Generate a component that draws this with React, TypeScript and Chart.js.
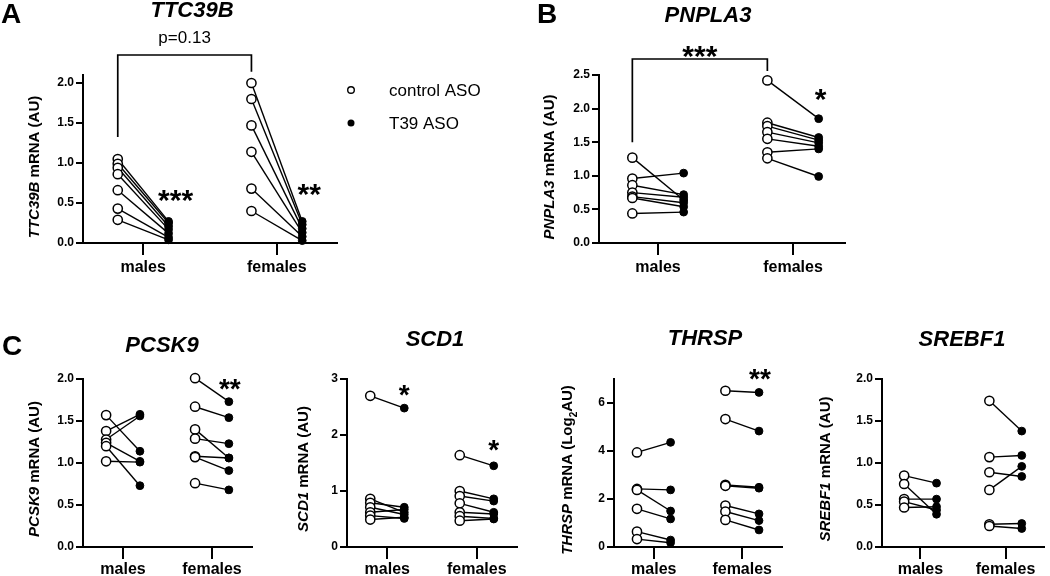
import React, { useEffect, useRef } from "react";
import { Chart, registerables } from "chart.js";

Chart.register(...registerables);

const FONT = "'Liberation Sans', Arial, Helvetica, sans-serif";

// ---------- labels ----------
const groupLabels = ["males", "females"];
const legendLabels = ["control ASO", "T39 ASO"];

// ---------- Panel A: TTC39B ----------
const ttc39bMaleControl = [1.05, 0.99, 0.94, 0.86, 0.66, 0.43, 0.29];
const ttc39bMaleASO = [0.27, 0.25, 0.21, 0.17, 0.12, 0.07, 0.04];
const ttc39bFemaleControl = [2.0, 1.8, 1.47, 1.14, 0.68, 0.4];
const ttc39bFemaleASO = [0.27, 0.23, 0.18, 0.13, 0.08, 0.03];
const ttc39bYTicks = [0, 0.5, 1.0, 1.5, 2.0];

// ---------- Panel B: PNPLA3 ----------
const pnpla3MaleControl = [1.27, 0.96, 0.86, 0.75, 0.69, 0.67, 0.44];
const pnpla3MaleASO = [0.64, 1.04, 0.72, 0.68, 0.6, 0.54, 0.46];
const pnpla3FemaleControl = [2.42, 1.79, 1.74, 1.65, 1.55, 1.35, 1.26];
const pnpla3FemaleASO = [1.85, 1.57, 1.53, 1.49, 1.44, 1.4, 0.99];
const pnpla3YTicks = [0, 0.5, 1.0, 1.5, 2.0, 2.5];

// ---------- Panel C: PCSK9 ----------
const pcsk9MaleControl = [1.57, 1.38, 1.28, 1.24, 1.2, 1.02];
const pcsk9MaleASO = [1.14, 1.58, 1.56, 1.02, 0.73, 1.01];
const pcsk9FemaleControl = [2.01, 1.67, 1.4, 1.29, 1.08, 1.07, 0.76];
const pcsk9FemaleASO = [1.73, 1.54, 1.06, 1.23, 1.06, 0.91, 0.68];
const pcsk9YTicks = [0, 0.5, 1.0, 1.5, 2.0];

// ---------- Panel C: SCD1 ----------
const scd1MaleControl = [2.7, 0.86, 0.79, 0.71, 0.62, 0.56, 0.49];
const scd1MaleASO = [2.48, 0.62, 0.71, 0.58, 0.67, 0.51, 0.53];
const scd1FemaleControl = [1.64, 1.0, 0.91, 0.78, 0.62, 0.55, 0.47];
const scd1FemaleASO = [1.45, 0.86, 0.82, 0.62, 0.59, 0.51, 0.5];
const scd1YTicks = [0, 1, 2, 3];

// ---------- Panel C: THRSP ----------
const thrspMaleControl = [3.94, 2.42, 2.38, 1.59, 0.64, 0.33];
const thrspMaleASO = [4.36, 2.38, 1.5, 1.17, 0.29, 0.18];
const thrspFemaleControl = [6.51, 5.33, 2.59, 2.55, 1.73, 1.48, 1.13];
const thrspFemaleASO = [6.44, 4.83, 2.49, 2.45, 1.38, 1.1, 0.71];
const thrspYTicks = [0, 2, 4, 6];

// ---------- Panel C: SREBF1 ----------
const srebf1MaleControl = [0.85, 0.75, 0.57, 0.54, 0.47];
const srebf1MaleASO = [0.76, 0.39, 0.57, 0.44, 0.48];
const srebf1FemaleControl = [1.74, 1.07, 0.89, 0.68, 0.27, 0.25];
const srebf1FemaleASO = [1.38, 1.09, 0.84, 0.96, 0.28, 0.22];
const srebf1YTicks = [0, 0.5, 1.0, 1.5, 2.0];

// ---------- layout / style ----------
const OFF = 0.19;

type Seg = { t: string; it?: boolean; sub?: boolean };
type Star = { text: string; group: number; y: number; dx: number; size: number };
type Bracket = { y: number; leftY: number; rightY: number; label: string; kind: "text" | "star"; gap: number };
type PanelCfg = {
  id: string;
  box: { left: number; top: number; width: number; height: number };
  area: { l: number; t: number; r: number; b: number };
  xMin: number;
  xMax: number;
  yMax: number;
  yTicks: number[];
  decimals: number;
  mc: number[];
  ma: number[];
  fc: number[];
  fa: number[];
  title: { text: string; x: number; y: number };
  letter?: { text: string; x: number; y: number };
  yTitle: { segs: Seg[]; x: number; y: number };
  stars: Star[];
  bracket?: Bracket;
  legend?: { x: number; tx: number; y1: number; y2: number };
  xTickPad: number;
};

const panels: PanelCfg[] = [
  {
    id: "A",
    box: { left: 0, top: 0, width: 520, height: 290 },
    area: { l: 83, t: 75, r: 337, b: 243 },
    xMin: 0.55,
    xMax: 2.45,
    yMax: 2.1,
    yTicks: ttc39bYTicks,
    decimals: 1,
    mc: ttc39bMaleControl,
    ma: ttc39bMaleASO,
    fc: ttc39bFemaleControl,
    fa: ttc39bFemaleASO,
    title: { text: "TTC39B", x: 192, y: 17 },
    letter: { text: "A", x: 1, y: 23 },
    yTitle: { segs: [{ t: "TTC39B", it: true }, { t: " mRNA (AU)" }], x: 39, y: 167 },
    stars: [
      { text: "***", group: 1, y: 0.59, dx: 7, size: 30 },
      { text: "**", group: 2, y: 0.66, dx: 7, size: 30 },
    ],
    bracket: { y: 2.35, leftY: 1.325, rightY: 2.14, label: "p=0.13", kind: "text", gap: 12 },
    legend: { x: 351, tx: 389, y1: 90, y2: 123 },
    xTickPad: 3,
  },
  {
    id: "B",
    box: { left: 520, top: 0, width: 530, height: 290 },
    area: { l: 599, t: 75, r: 845, b: 243 },
    xMin: 0.563,
    xMax: 2.385,
    yMax: 2.5,
    yTicks: pnpla3YTicks,
    decimals: 1,
    mc: pnpla3MaleControl,
    ma: pnpla3MaleASO,
    fc: pnpla3FemaleControl,
    fa: pnpla3FemaleASO,
    title: { text: "PNPLA3", x: 708, y: 22 },
    letter: { text: "B", x: 537, y: 23 },
    yTitle: { segs: [{ t: "PNPLA3", it: true }, { t: " mRNA (AU)" }], x: 554, y: 167 },
    stars: [{ text: "*", group: 2, y: 2.2, dx: 2, size: 30 }],
    bracket: { y: 2.738, leftY: 1.5, rightY: 2.56, label: "***", kind: "star", gap: 7.5 },
    xTickPad: 3,
  },
  {
    id: "PCSK9",
    box: { left: 0, top: 300, width: 262, height: 276 },
    area: { l: 83, t: 379, r: 252, b: 547 },
    xMin: 0.55,
    xMax: 2.45,
    yMax: 2.0,
    yTicks: pcsk9YTicks,
    decimals: 1,
    mc: pcsk9MaleControl,
    ma: pcsk9MaleASO,
    fc: pcsk9FemaleControl,
    fa: pcsk9FemaleASO,
    title: { text: "PCSK9", x: 162, y: 352 },
    letter: { text: "C", x: 2, y: 355 },
    yTitle: { segs: [{ t: "PCSK9", it: true }, { t: " mRNA (AU)" }], x: 39, y: 469 },
    stars: [{ text: "**", group: 2, y: 1.94, dx: 1, size: 28 }],
    xTickPad: 1,
  },
  {
    id: "SCD1",
    box: { left: 262, top: 300, width: 263, height: 276 },
    area: { l: 347, t: 379, r: 517, b: 547 },
    xMin: 0.55,
    xMax: 2.45,
    yMax: 3,
    yTicks: scd1YTicks,
    decimals: 0,
    mc: scd1MaleControl,
    ma: scd1MaleASO,
    fc: scd1FemaleControl,
    fa: scd1FemaleASO,
    title: { text: "SCD1", x: 435, y: 346 },
    yTitle: { segs: [{ t: "SCD1", it: true }, { t: " mRNA (AU)" }], x: 308, y: 469 },
    stars: [
      { text: "*", group: 1, y: 2.8, dx: 0, size: 28 },
      { text: "*", group: 2, y: 1.82, dx: 0, size: 28 },
    ],
    xTickPad: 1,
  },
  {
    id: "THRSP",
    box: { left: 525, top: 300, width: 265, height: 276 },
    area: { l: 614, t: 379, r: 782, b: 547 },
    xMin: 0.55,
    xMax: 2.45,
    yMax: 7,
    yTicks: thrspYTicks,
    decimals: 0,
    mc: thrspMaleControl,
    ma: thrspMaleASO,
    fc: thrspFemaleControl,
    fa: thrspFemaleASO,
    title: { text: "THRSP", x: 705, y: 345 },
    yTitle: {
      segs: [{ t: "THRSP", it: true }, { t: " mRNA (Log" }, { t: "2", sub: true }, { t: "AU)" }],
      x: 572,
      y: 470,
    },
    stars: [{ text: "**", group: 2, y: 7.18, dx: 1, size: 28 }],
    xTickPad: 1,
  },
  {
    id: "SREBF1",
    box: { left: 790, top: 300, width: 260, height: 276 },
    area: { l: 882, t: 379, r: 1048, b: 547 },
    xMin: 0.55,
    xMax: 2.45,
    yMax: 2.0,
    yTicks: srebf1YTicks,
    decimals: 1,
    mc: srebf1MaleControl,
    ma: srebf1MaleASO,
    fc: srebf1FemaleControl,
    fa: srebf1FemaleASO,
    title: { text: "SREBF1", x: 962, y: 346 },
    yTitle: { segs: [{ t: "SREBF1", it: true }, { t: " mRNA (AU)" }], x: 830, y: 469 },
    stars: [],
    xTickPad: 1,
  },
];

const Y_AXIS_W = 40;

function drawCenteredGlyph(ctx: CanvasRenderingContext2D, text: string, x: number, cy: number) {
  const m = ctx.measureText(text);
  const asc = m.actualBoundingBoxAscent;
  const desc = m.actualBoundingBoxDescent;
  const y = cy - (desc - asc) / 2;
  ctx.fillText(text, x, y);
}

function drawVerticalTitle(ctx: CanvasRenderingContext2D, segs: Seg[], x: number, cy: number, size: number) {
  const fontFor = (s: Seg) => `${s.it ? "italic " : ""}bold ${s.sub ? Math.round(size * 0.68) : size}px ${FONT}`;
  let total = 0;
  const widths = segs.map((s) => {
    ctx.font = fontFor(s);
    const w = ctx.measureText(s.t).width;
    total += w;
    return w;
  });
  ctx.save();
  ctx.translate(x, cy);
  ctx.rotate(-Math.PI / 2);
  ctx.textAlign = "left";
  ctx.textBaseline = "alphabetic";
  let pos = -total / 2;
  segs.forEach((s, i) => {
    ctx.font = fontFor(s);
    ctx.fillText(s.t, pos, s.sub ? size * 0.3 : 0);
    pos += widths[i];
  });
  ctx.restore();
}

function annotationPlugin(p: PanelCfg) {
  return {
    id: "annot" + p.id,
    afterDraw(chart: any) {
      const ctx: CanvasRenderingContext2D = chart.ctx;
      const xs = chart.scales.x;
      const ys = chart.scales.y;
      const ox = p.box.left;
      const oy = p.box.top;
      ctx.save();
      ctx.fillStyle = "#000";
      ctx.strokeStyle = "#000";
      ctx.textBaseline = "alphabetic";

      if (p.letter) {
        ctx.font = `bold 28px ${FONT}`;
        ctx.textAlign = "left";
        ctx.fillText(p.letter.text, p.letter.x - ox, p.letter.y - oy);
      }

      ctx.font = `italic bold 22px ${FONT}`;
      ctx.textAlign = "center";
      ctx.fillText(p.title.text, p.title.x - ox, p.title.y - oy);

      drawVerticalTitle(ctx, p.yTitle.segs, p.yTitle.x - ox, p.yTitle.y - oy, 15);

      if (p.bracket) {
        const b = p.bracket;
        const x1 = xs.getPixelForValue(1 - OFF);
        const x2 = xs.getPixelForValue(2 - OFF);
        const yt = ys.getPixelForValue(b.y);
        const yl = ys.getPixelForValue(b.leftY);
        const yr = ys.getPixelForValue(b.rightY);
        ctx.lineWidth = 1.7;
        ctx.beginPath();
        ctx.moveTo(x1, yl);
        ctx.lineTo(x1, yt);
        ctx.lineTo(x2, yt);
        ctx.lineTo(x2, yr);
        ctx.stroke();
        ctx.textAlign = "center";
        if (b.kind === "text") {
          ctx.font = `17px ${FONT}`;
          ctx.fillText(b.label, (x1 + x2) / 2, yt - b.gap);
        } else {
          ctx.font = `bold 30px ${FONT}`;
          drawCenteredGlyph(ctx, b.label, (x1 + x2) / 2, yt - b.gap);
        }
      }

      ctx.textAlign = "center";
      p.stars.forEach((s) => {
        ctx.font = `bold ${s.size}px ${FONT}`;
        const x = xs.getPixelForValue(s.group + OFF) + s.dx;
        const y = ys.getPixelForValue(s.y);
        drawCenteredGlyph(ctx, s.text, x, y);
      });

      if (p.legend) {
        const L = p.legend;
        ctx.lineWidth = 1.4;
        ctx.beginPath();
        ctx.arc(L.x - ox, L.y1 - oy, 3.3, 0, Math.PI * 2);
        ctx.fillStyle = "#fff";
        ctx.fill();
        ctx.stroke();
        ctx.fillStyle = "#000";
        ctx.beginPath();
        ctx.arc(L.x - ox, L.y2 - oy, 3.5, 0, Math.PI * 2);
        ctx.fill();
        ctx.font = `17px ${FONT}`;
        ctx.textAlign = "left";
        const cap = ctx.measureText("A").actualBoundingBoxAscent;
        ctx.fillText(legendLabels[0], L.tx - ox, L.y1 - oy + cap / 2);
        ctx.fillText(legendLabels[1], L.tx - ox, L.y2 - oy + cap / 2);
      }
      ctx.restore();
    },
  };
}

function buildDatasets(p: PanelCfg) {
  const lineSets: any[] = [];
  const addPairs = (ctrl: number[], aso: number[], xc: number) => {
    ctrl.forEach((c, i) => {
      lineSets.push({
        label: `pair-${xc}-${i}`,
        data: [
          { x: xc - OFF, y: c },
          { x: xc + OFF, y: aso[i] },
        ],
        showLine: true,
        borderColor: "#000",
        borderWidth: 1.4,
        pointRadius: 0,
        pointHoverRadius: 0,
        order: 2,
        clip: false,
      });
    });
  };
  addPairs(p.mc, p.ma, 1);
  addPairs(p.fc, p.fa, 2);
  const controlPts = [
    ...p.mc.map((y) => ({ x: 1 - OFF, y })),
    ...p.fc.map((y) => ({ x: 2 - OFF, y })),
  ];
  const asoPts = [
    ...p.ma.map((y) => ({ x: 1 + OFF, y })),
    ...p.fa.map((y) => ({ x: 2 + OFF, y })),
  ];
  const pointSets = [
    {
      label: legendLabels[0],
      data: controlPts,
      pointRadius: 4.6,
      pointBackgroundColor: "#fff",
      pointBorderColor: "#000",
      pointBorderWidth: 1.5,
      showLine: false,
      order: 1,
      clip: false,
    },
    {
      label: legendLabels[1],
      data: asoPts,
      pointRadius: 3.9,
      pointBackgroundColor: "#000",
      pointBorderColor: "#000",
      pointBorderWidth: 1,
      showLine: false,
      order: 0,
      clip: false,
    },
  ];
  return [...pointSets, ...lineSets];
}

function buildConfig(p: PanelCfg): any {
  const xAxisH = p.box.top + p.box.height - p.area.b;
  const padding = {
    left: p.area.l - p.box.left - Y_AXIS_W,
    top: p.area.t - p.box.top,
    right: p.box.left + p.box.width - p.area.r,
    bottom: 0,
  };
  return {
    type: "scatter",
    data: { datasets: buildDatasets(p) },
    options: {
      responsive: false,
      animation: false,
      devicePixelRatio: 1,
      events: [],
      layout: { padding },
      plugins: {
        legend: { display: false },
        title: { display: false },
        tooltip: { enabled: false },
      },
      scales: {
        x: {
          type: "linear",
          min: p.xMin,
          max: p.xMax,
          afterBuildTicks: (s: any) => {
            s.ticks = groupLabels.map((_, i) => ({ value: i + 1 }));
          },
          afterFit: (s: any) => {
            s.height = xAxisH;
          },
          ticks: {
            callback: (v: number) => groupLabels[Math.round(v) - 1] ?? "",
            color: "#000",
            font: { family: FONT, size: 16, weight: "bold" },
            padding: p.xTickPad,
            autoSkip: false,
            maxRotation: 0,
            minRotation: 0,
          },
          grid: { drawOnChartArea: false, drawTicks: true, tickLength: 12, color: "#000", lineWidth: 2 },
          border: { display: true, color: "#000", width: 2 },
        },
        y: {
          type: "linear",
          min: 0,
          max: p.yMax,
          afterBuildTicks: (s: any) => {
            s.ticks = p.yTicks.map((v) => ({ value: v }));
          },
          afterFit: (s: any) => {
            s.width = Y_AXIS_W;
          },
          ticks: {
            callback: (v: number) => Number(v).toFixed(p.decimals),
            color: "#000",
            font: { family: FONT, size: 12, weight: "bold" },
            padding: 2,
            includeBounds: false,
          },
          grid: { drawOnChartArea: false, drawTicks: true, tickLength: 7, color: "#000", lineWidth: 2 },
          border: { display: true, color: "#000", width: 2 },
        },
      },
    },
    plugins: [annotationPlugin(p)],
  };
}

function PanelChart({ p }: { p: PanelCfg }) {
  const ref = useRef<HTMLCanvasElement>(null);
  useEffect(() => {
    if (!ref.current) return;
    const chart = new Chart(ref.current, buildConfig(p));
    return () => chart.destroy();
  }, [p]);
  return (
    <canvas
      ref={ref}
      width={p.box.width}
      height={p.box.height}
      style={{
        position: "absolute",
        left: p.box.left,
        top: p.box.top,
        width: p.box.width,
        height: p.box.height,
      }}
    />
  );
}

export default function App() {
  return (
    <div
      style={{
        position: "absolute",
        left: 0,
        top: 0,
        width: 1050,
        height: 576,
        background: "#fff",
        overflow: "hidden",
      }}
    >
      {panels.map((p) => (
        <PanelChart key={p.id} p={p} />
      ))}
    </div>
  );
}
